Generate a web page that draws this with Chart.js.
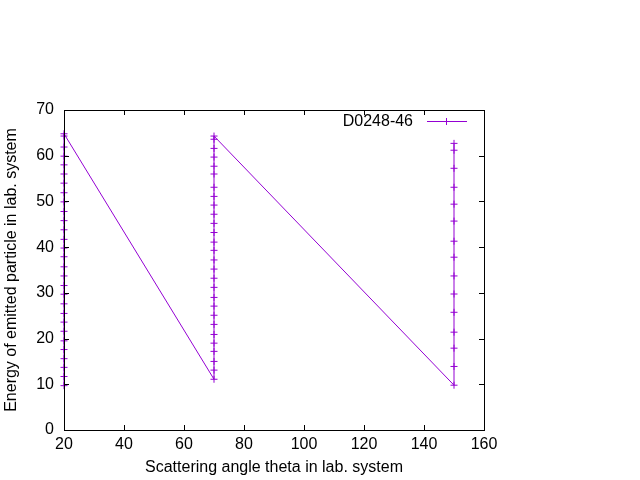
<!DOCTYPE html>
<html>
<head>
<meta charset="utf-8">
<script src="https://cdn.jsdelivr.net/npm/chart.js@4.4.1/dist/chart.umd.min.js"></script>
<style>
  html, body { margin: 0; padding: 0; background: #ffffff; }
  #c { display: block; }
</style>
</head>
<body>
<canvas id="c" width="640" height="480"></canvas>
<script>
// ---- data ----
const seriesName = "D0248-46";
const angles = [20, 70, 150];
const energiesAt20 = [9.7, 11.7, 13.7, 15.6, 17.6, 19.5, 21.6, 23.6, 25.5, 27.6, 29.7, 31.6, 33.7, 35.7, 37.9, 39.8, 41.7, 43.8, 45.8, 47.8, 49.9, 51.9, 54.0, 56.0, 58.0, 59.9, 61.9, 64.3, 64.8];
const energiesAt70 = [11.1, 13.1, 15.0, 17.2, 19.0, 20.9, 23.1, 25.1, 27.1, 29.0, 31.2, 33.2, 35.2, 37.2, 39.3, 41.1, 43.2, 45.2, 47.2, 49.2, 51.1, 53.1, 56.0, 57.7, 59.7, 61.6, 63.6, 64.3];
const energiesAt150 = [9.8, 13.9, 17.9, 21.4, 25.75, 29.75, 33.7, 37.8, 41.3, 45.7, 49.4, 53.1, 57.25, 61.2, 62.7];
const xTickValues = [20, 40, 60, 80, 100, 120, 140, 160];
const yTickValues = [0, 10, 20, 30, 40, 50, 60, 70];
const xTitle = "Scattering angle theta in lab. system";
const yTitle = "Energy of emitted particle in lab. system";

const energyColumns = [energiesAt20, energiesAt70, energiesAt150];
const points = [];
angles.forEach((a, i) => energyColumns[i].forEach(e => points.push({ x: a, y: e })));

const COLOR = '#9400d3';
const FONT = "'Liberation Sans', Arial, sans-serif";

const framePlugin = {
  id: 'frame',
  afterDatasetsDraw(chart) {
    const { ctx, chartArea: a, scales } = chart;
    ctx.save();
    ctx.strokeStyle = '#000';
    ctx.lineWidth = 1;
    const tl = 5;
    ctx.beginPath();
    xTickValues.forEach(v => {
      const px = Math.round(scales.x.getPixelForValue(v)) + 0.5;
      ctx.moveTo(px, a.bottom); ctx.lineTo(px, a.bottom - tl);
      ctx.moveTo(px, a.top); ctx.lineTo(px, a.top + tl);
    });
    yTickValues.forEach(v => {
      const py = Math.round(scales.y.getPixelForValue(v)) + 0.5;
      ctx.moveTo(a.left, py); ctx.lineTo(a.left + tl, py);
      ctx.moveTo(a.right, py); ctx.lineTo(a.right - tl, py);
    });
    ctx.stroke();
    ctx.strokeRect(Math.round(a.left) + 0.5, Math.round(a.top) + 0.5,
                   Math.round(a.right - a.left), Math.round(a.bottom - a.top));
    // key
    const ky = a.top + 11.5;
    ctx.fillStyle = '#000';
    ctx.font = '16px ' + FONT;
    ctx.textAlign = 'right';
    ctx.textBaseline = 'middle';
    ctx.fillText(seriesName, a.right - 71, ky);
    ctx.strokeStyle = COLOR;
    ctx.beginPath();
    ctx.moveTo(a.right - 57, ky); ctx.lineTo(a.right - 17, ky);
    ctx.moveTo(a.right - 37.5, ky - 3.5); ctx.lineTo(a.right - 37.5, ky + 3.5);
    ctx.stroke();
    ctx.restore();
  }
};

new Chart(document.getElementById('c'), {
  type: 'line',
  data: {
    datasets: [{
      label: seriesName,
      data: points,
      borderColor: COLOR,
      backgroundColor: COLOR,
      borderWidth: 1,
      pointStyle: 'cross',
      pointRadius: 3.5,
      pointBorderWidth: 1,
      pointBorderColor: COLOR,
      tension: 0,
      fill: false,
      clip: false
    }]
  },
  options: {
    responsive: false,
    animation: false,
    devicePixelRatio: 1,
    layout: { padding: { top: 110, right: 156, left: 0, bottom: 0 } },
    plugins: { legend: { display: false }, tooltip: { enabled: false } },
    scales: {
      x: {
        type: 'linear', min: 20, max: 160,
        afterFit: s => { s.height = 50; },
        afterBuildTicks: s => { s.ticks = xTickValues.map(v => ({ value: v })); },
        grid: { display: false, drawTicks: false },
        border: { display: false },
        ticks: { color: '#000', font: { family: FONT, size: 16 }, padding: 5, maxRotation: 0 },
        title: { display: true, text: xTitle, color: '#000', font: { family: FONT, size: 16 }, padding: { top: 0, bottom: 3 } }
      },
      y: {
        type: 'linear', min: 0, max: 70,
        afterFit: s => { s.width = 64; },
        afterBuildTicks: s => { s.ticks = yTickValues.map(v => ({ value: v })); },
        grid: { display: false, drawTicks: false },
        border: { display: false },
        ticks: { color: '#000', font: { family: FONT, size: 16 }, padding: 10 },
        title: { display: true, text: yTitle, color: '#000', font: { family: FONT, size: 16 }, padding: { top: 2, bottom: 0 } }
      }
    }
  },
  plugins: [framePlugin]
});
</script>
</body>
</html>
